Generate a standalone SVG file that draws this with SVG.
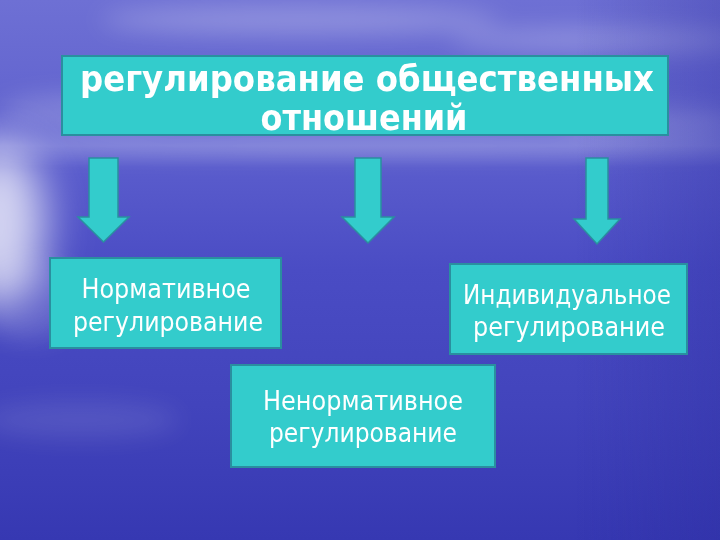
<svg xmlns="http://www.w3.org/2000/svg" width="720" height="540" viewBox="0 0 720 540">
<defs>
<linearGradient id="bg" x1="0" y1="0" x2="0" y2="1">
<stop offset="0" stop-color="#6e70d4"/>
<stop offset="0.2" stop-color="#6264cf"/>
<stop offset="0.27" stop-color="#7476d6"/>
<stop offset="0.31" stop-color="#5a5ccc"/>
<stop offset="0.5" stop-color="#4a4cc4"/>
<stop offset="0.75" stop-color="#4244bc"/>
<stop offset="1" stop-color="#3638b2"/>
</linearGradient>
<linearGradient id="side" x1="0" y1="0" x2="1" y2="0">
<stop offset="0" stop-color="#2a2a9c" stop-opacity="0"/>
<stop offset="0.8" stop-color="#2a2a9c" stop-opacity="0"/>
<stop offset="1" stop-color="#2a2a9c" stop-opacity="0.3"/>
</linearGradient>
<filter id="blur" x="-50%" y="-50%" width="200%" height="200%">
<feGaussianBlur stdDeviation="12"/>
</filter>
<filter id="blurBig" x="-100%" y="-100%" width="300%" height="300%">
<feGaussianBlur stdDeviation="22"/>
</filter>
<style>
.box{fill:#33cccc;stroke:#2a8f9f;stroke-width:2}
.arrow{fill:#33cccc;stroke:#2a8f9f;stroke-width:1.5}
.title{font-family:"DejaVu Sans",sans-serif;font-weight:bold;font-size:35px;fill:#ffffff;text-anchor:middle}
.lbl{font-family:"DejaVu Sans",sans-serif;font-size:26px;fill:#ffffff;text-anchor:middle}
.cloud{fill:#ffffff}
</style>
</defs>
<rect width="720" height="540" fill="url(#bg)"/>
<g filter="url(#blurBig)">
<ellipse class="cloud" cx="0" cy="225" rx="45" ry="80" opacity="0.75"/>
</g>
<g filter="url(#blur)">
<ellipse class="cloud" cx="30" cy="300" rx="50" ry="40" opacity="0.15"/>
<ellipse class="cloud" cx="300" cy="20" rx="200" ry="14" opacity="0.25"/>
<ellipse class="cloud" cx="600" cy="40" rx="150" ry="12" opacity="0.25"/>
<ellipse class="cloud" cx="90" cy="110" rx="90" ry="16" opacity="0.2"/>
<ellipse class="cloud" cx="360" cy="146" rx="380" ry="6" opacity="0.3"/>
<ellipse class="cloud" cx="650" cy="120" rx="90" ry="14" opacity="0.2"/>
<ellipse class="cloud" cx="80" cy="420" rx="100" ry="18" opacity="0.1"/>
</g>
<rect width="720" height="540" fill="url(#side)"/>
<g id="top">
<rect class="box" x="62" y="56" width="606" height="79"/>
<text class="title" x="367" y="91" textLength="574" lengthAdjust="spacingAndGlyphs">регулирование общественных</text>
<text class="title" x="364" y="130" textLength="207" lengthAdjust="spacingAndGlyphs">отношений</text>
</g>
<g id="connectors">
<polygon class="arrow" points="89,158 118,158 118,217 129,217 103.5,242 78,217 89,217"/>
<polygon class="arrow" points="355,158 381,158 381,217 394,217 368,243 342,217 355,217"/>
<polygon class="arrow" points="586,158 608,158 608,219 620,219 597,244 574,219 586,219"/>
</g>
<g id="normative">
<rect class="box" x="50" y="258" width="231" height="90"/>
<text class="lbl" x="166" y="298" textLength="169" lengthAdjust="spacingAndGlyphs">Нормативное</text>
<text class="lbl" x="168" y="331" textLength="190" lengthAdjust="spacingAndGlyphs">регулирование</text>
</g>
<g id="individual">
<rect class="box" x="450" y="264" width="237" height="90"/>
<text class="lbl" x="567" y="304" textLength="208" lengthAdjust="spacingAndGlyphs">Индивидуальное</text>
<text class="lbl" x="569" y="336" textLength="192" lengthAdjust="spacingAndGlyphs">регулирование</text>
</g>
<g id="nonnormative">
<rect class="box" x="231" y="365" width="264" height="102"/>
<text class="lbl" x="363" y="410" textLength="200" lengthAdjust="spacingAndGlyphs">Ненормативное</text>
<text class="lbl" x="363" y="442" textLength="188" lengthAdjust="spacingAndGlyphs">регулирование</text>
</g>
</svg>
